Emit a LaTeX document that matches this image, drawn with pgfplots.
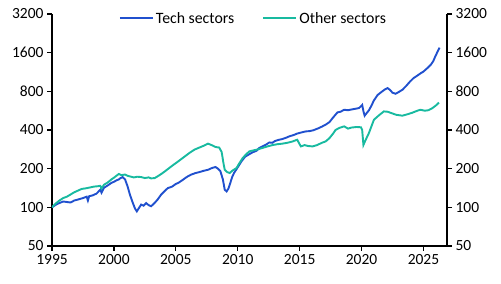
\documentclass[border=0pt]{standalone}
\usepackage{pgfplots}
\pgfplotsset{compat=1.18}
\usepackage{pgfplotstable}
\usepackage{fontspec}
\setmainfont{Carlito}

\definecolor{techblue}{RGB}{32,80,206}
\definecolor{otherteal}{RGB}{24,186,160}

% Tech sector index (1995 = 100)
\pgfplotstableread{
year val
1995.0 100
1995.2 103
1995.4 106
1995.6 108
1995.9 111
1996.2 110
1996.5 109
1996.8 113
1997.1 115
1997.5 118
1997.8 121
1997.9 113
1998.0 122
1998.3 124
1998.6 128
1998.9 137
1999.0 130
1999.2 142
1999.5 148
1999.8 155
2000.0 158
2000.2 162
2000.4 165
2000.5 168
2000.7 172
2000.9 165
2001.1 146
2001.3 125
2001.5 110
2001.7 98
2001.85 93
2002.0 98
2002.2 105
2002.4 103
2002.6 108
2002.8 104
2003.0 102
2003.2 106
2003.5 114
2003.8 125
2004.1 134
2004.35 141
2004.7 145
2005.0 152
2005.2 155
2005.5 162
2005.8 170
2006.0 175
2006.25 180
2006.6 185
2006.9 188
2007.2 192
2007.6 196
2007.9 202
2008.2 206
2008.4 200
2008.6 191
2008.8 165
2008.95 137
2009.1 133
2009.25 140
2009.4 155
2009.55 172
2009.7 185
2010.0 205
2010.3 228
2010.6 248
2010.9 258
2011.2 268
2011.5 275
2011.75 290
2012.0 298
2012.3 308
2012.55 320
2012.8 318
2013.0 328
2013.3 335
2013.6 340
2013.9 348
2014.2 358
2014.5 365
2014.8 375
2015.1 382
2015.5 390
2015.8 392
2016.1 398
2016.5 412
2016.8 425
2017.1 440
2017.4 460
2017.7 500
2018.05 548
2018.3 555
2018.6 575
2018.9 570
2019.2 578
2019.5 585
2019.8 593
2020.05 627
2020.15 560
2020.25 517
2020.4 540
2020.6 570
2020.8 620
2021.0 680
2021.3 750
2021.6 790
2021.9 830
2022.1 848
2022.3 820
2022.5 780
2022.75 766
2023.0 790
2023.3 823
2023.6 880
2023.9 950
2024.2 1014
2024.5 1060
2024.8 1110
2025.0 1140
2025.3 1210
2025.6 1290
2025.8 1380
2025.95 1493
2026.1 1600
2026.3 1750
}\techdata

% Other sectors index (1995 = 100)
\pgfplotstableread{
year val
1995.0 100
1995.3 107
1995.6 113
1995.9 118
1996.2 121
1996.45 125
1996.8 131
1997.1 135
1997.4 139
1997.8 141
1998.1 143
1998.4 145
1998.7 146
1998.9 147
1999.0 140
1999.2 150
1999.5 156
1999.8 165
2000.0 170
2000.2 176
2000.4 182
2000.6 178
2000.9 180
2001.1 176
2001.3 174
2001.6 171
2001.9 173
2002.2 172
2002.5 169
2002.8 171
2003.0 168
2003.3 169
2003.6 176
2003.9 184
2004.1 190
2004.4 200
2004.8 214
2005.2 228
2005.5 240
2005.8 252
2006.1 265
2006.5 281
2006.9 292
2007.2 300
2007.6 313
2007.9 305
2008.2 295
2008.5 292
2008.7 270
2008.85 220
2008.95 196
2009.15 188
2009.35 185
2009.6 194
2009.9 202
2010.1 218
2010.4 242
2010.7 260
2010.95 273
2011.3 278
2011.6 282
2012.0 290
2012.4 298
2012.8 305
2013.2 310
2013.6 313
2014.0 318
2014.4 325
2014.8 336
2015.1 298
2015.4 305
2015.7 300
2016.05 298
2016.4 305
2016.8 318
2017.1 326
2017.4 345
2017.7 375
2017.9 400
2018.2 415
2018.6 427
2018.9 410
2019.2 418
2019.6 422
2019.95 420
2020.05 400
2020.15 306
2020.3 330
2020.6 380
2021.0 481
2021.4 520
2021.8 558
2022.1 555
2022.4 542
2022.8 525
2023.3 517
2023.7 530
2024.1 545
2024.5 565
2024.75 575
2025.1 565
2025.4 570
2025.7 590
2026.0 620
2026.25 655
}\otherdata

\begin{document}
\begin{tikzpicture}
\begin{axis}[
  name=main,
  scale only axis,
  width=395pt, height=232pt,
  xmin=1995, xmax=2026.9,
  ymode=log, log basis y=2,
  ymin=50, ymax=3200,
  ytick={50,100,200,400,800,1600,3200},
  log ticks with fixed point,
  tick label style={font=\fontsize{15.5}{17}\selectfont, black},
  yticklabel style={/pgf/number format/1000 sep={}},
  xticklabel style={/pgf/number format/1000 sep={}},
  tick align=outside,
  major tick length=5pt,
  every tick/.style={black, line width=1.2pt},
  axis line style={black, line width=1.5pt},
  axis x line*=bottom, axis y line*=left,
  xtick={1995,2000,...,2025},
  ytick pos=left,
  xtick pos=bottom,
  legend columns=2,
  legend style={draw=none, fill=none, at={(0.51,1.0)}, anchor=north,
    yshift=6pt, font=\fontsize{15.8}{17}\selectfont,
    /tikz/every even column/.append style={column sep=26pt}},
  legend image code/.code={\draw[#1, line width=2pt] (0pt,0pt) -- (33pt,0pt);},
  /pgf/number format/assume math mode=true,
]
\addplot[techblue, line width=1.9pt] table[x=year, y=val] {\techdata};
\addlegendentry{Tech sectors}
\addplot[otherteal, line width=1.9pt] table[x=year, y=val] {\otherdata};
\addlegendentry{Other sectors}
\end{axis}
\begin{axis}[
  scale only axis,
  width=395pt, height=232pt,
  xmin=1995, xmax=2026.9,
  ymode=log, log basis y=2,
  ymin=50, ymax=3200,
  ytick={50,100,200,400,800,1600,3200},
  log ticks with fixed point,
  tick label style={font=\fontsize{15.5}{17}\selectfont, black},
  yticklabel style={/pgf/number format/1000 sep={}},
  tick align=outside,
  major tick length=5pt,
  every tick/.style={black, line width=1.2pt},
  axis line style={black, line width=1.5pt},
  axis x line=none, axis y line*=right,
  ytick pos=right,
  yticklabel pos=right,
  /pgf/number format/assume math mode=true,
]
\end{axis}
\pgfresetboundingbox
\path ([shift={(-52pt,-38pt)}]main.south west) rectangle ([shift={(54pt,14pt)}]main.north east);
\end{tikzpicture}
\end{document}
